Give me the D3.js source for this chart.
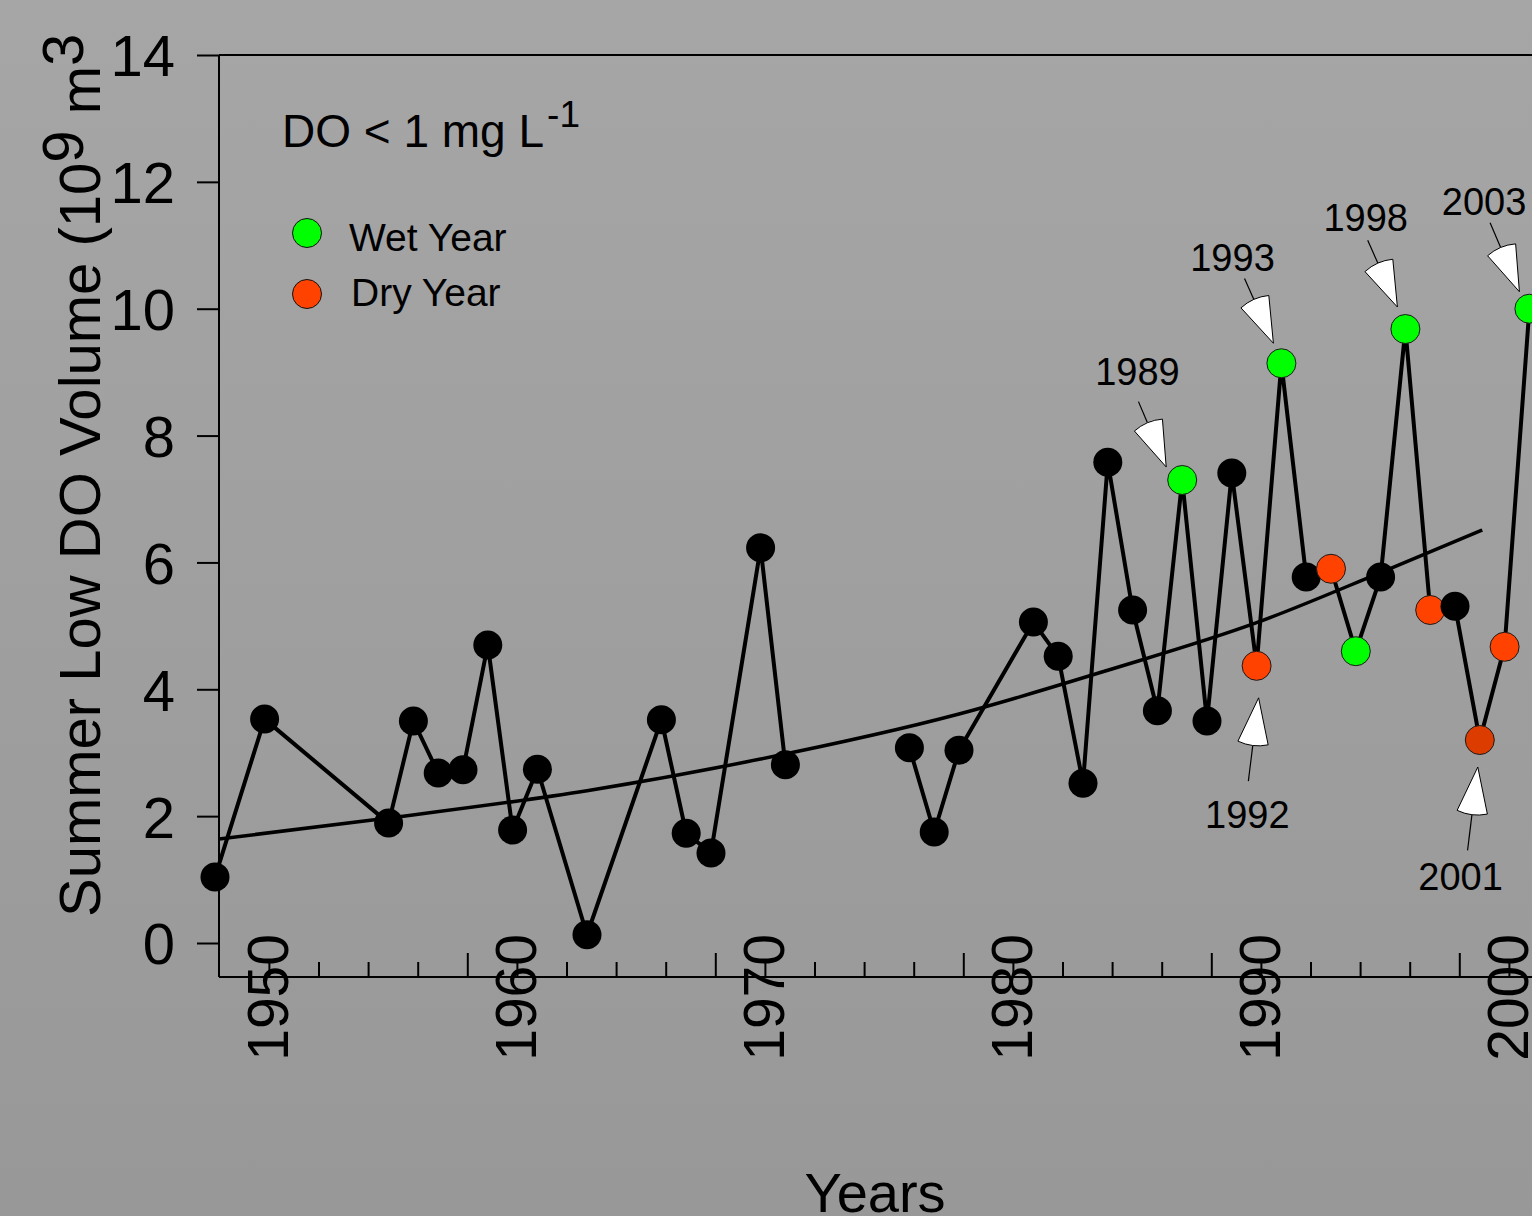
<!DOCTYPE html>
<html><head><meta charset="utf-8">
<script src="https://cdn.jsdelivr.net/npm/d3@7"></script>
<style>html,body{margin:0;padding:0;overflow:hidden;background:#a0a0a0}svg{display:block}</style>
</head><body><svg id="chart" width="1532" height="1216"></svg>
<script>
// ---- data ----
const years = [1950,1952,1957,1958,1959,1960,1961,1962,1963,1965,1968,1969,1970,1972,1973,
               1978,1979,1980,1983,1984,1985,1986,1987,1988,1989,1990,1991,1992,1993,1994,
               1995,1996,1997,1998,1999,2000,2001,2002,2003];
const values = [1.04,3.53,1.89,3.50,2.68,2.73,4.70,1.78,2.74,0.13,3.52,1.73,1.42,6.23,2.81,
                3.08,1.75,3.04,5.06,4.52,2.52,7.58,5.25,3.66,7.30,3.50,7.41,4.37,9.14,5.77,
                5.90,4.60,5.77,9.68,5.25,5.31,3.20,4.67,10.0];
const wetYears = [1989,1993,1996,1998,2003];
const dryYears = [1992,1995,1999,2002];
const dryDarkYears = [2001];
const lineBreakAfter = [1973];
const trendYears  = [1950.15,1957,1965,1972,1980,1986,1992,1997,2001.1];
const trendValues = [1.64,1.97,2.40,2.90,3.61,4.30,5.05,5.84,6.51];
const yTicks = [0,2,4,6,8,10,12,14];
const xMajorTicks = [1960,1970,1980,1990,2000];
const xMinorTicks = [1952,1954,1956,1958,1962,1964,1966,1968,1972,1974,1976,1978,1982,1984,1986,1988,1992,1994,1996,1998,2002];
const xLabelYears = [1950,1960,1970,1980,1990,2000];
const calloutYears = [1989,1993,1998,2003,1992,2001];
const calloutLabels = ["1989","1993","1998","2003","1992","2001"];
const legendLabels = ["Wet Year","Dry Year"];

// ---- styling ----
const FONT = "'Liberation Sans', Arial, Helvetica, sans-serif";
const colWet = "#00ff00", colDry = "#ff4200", colDryDark = "#dc3c00";
const calloutStyle = {
  1989:{dx:-16,dy:-13,ang:-113,lead:23,lx:-1,ly:-17},
  1993:{dx:-8,dy:-20,ang:-114,lead:23,lx:-12,ly:-7},
  1998:{dx:-8,dy:-22,ang:-114,lead:25,lx:-2,ly:-9},
  2003:{dx:-10,dy:-17,ang:-113,lead:27,lx:-6,ly:-8},
  1992:{dx:2,dy:32,ang:97,lead:36,lx:-1,ly:47},
  2001:{dx:-2,dy:27,ang:97,lead:36,lx:-7,ly:40}
};

const svg = d3.select("#chart");
const W = 1532, H = 1216;
const defs = svg.append("defs");
const grad = defs.append("linearGradient").attr("id","bg").attr("x1",0).attr("y1",0).attr("x2",0).attr("y2",1);
grad.append("stop").attr("offset","0%").attr("stop-color","#a6a6a6");
grad.append("stop").attr("offset","100%").attr("stop-color","#989898");
svg.append("rect").attr("width",W).attr("height",H).attr("fill","url(#bg)");

const x = d3.scaleLinear().domain([1950,2001]).range([215,215+51*24.8]);
const xAxisScale = x.copy().range(x.range().map(v => v + 4.3));
const y = d3.scaleLinear().domain([0,14]).range([943,55]);

const plotLeft = 219, plotTop = 55, plotBottom = 977;

// frame lines
svg.append("line").attr("x1",plotLeft).attr("x2",plotLeft).attr("y1",plotTop).attr("y2",plotBottom)
  .attr("stroke","#000").attr("stroke-width",2);
svg.append("line").attr("x1",plotLeft).attr("x2",W).attr("y1",plotTop).attr("y2",plotTop)
  .attr("stroke","#000").attr("stroke-width",2);
svg.append("line").attr("x1",plotLeft).attr("x2",W).attr("y1",plotBottom).attr("y2",plotBottom)
  .attr("stroke","#000").attr("stroke-width",2);

// y axis
const yAxis = svg.append("g").attr("transform",`translate(${plotLeft},0)`)
  .call(d3.axisLeft(y).tickValues(yTicks).tickSize(22).tickPadding(22).tickFormat(d3.format("d")));
yAxis.select(".domain").remove();
yAxis.selectAll(".tick line").attr("stroke","#000").attr("stroke-width",2);
yAxis.selectAll(".tick text").attr("font-family",FONT).attr("font-size",58).attr("fill","#000").attr("dy","0.36em");

// x axis ticks (inside, upward)
const xMin = svg.append("g").attr("transform",`translate(0,${plotBottom})`)
  .call(d3.axisTop(xAxisScale).tickValues(xMinorTicks).tickSize(15).tickFormat(""));
const xMaj = svg.append("g").attr("transform",`translate(0,${plotBottom})`)
  .call(d3.axisTop(xAxisScale).tickValues(xMajorTicks).tickSize(24).tickFormat(""));
[xMin,xMaj].forEach(g => { g.select(".domain").remove(); g.selectAll(".tick line").attr("stroke","#000").attr("stroke-width",2); });

// x labels (placed as in the reference, beside their decade mark)
svg.append("g").selectAll("text").data(xLabelYears).join("text")
  .attr("transform", d => `translate(${xAxisScale(d+2)+19},934) rotate(-90)`)
  .attr("text-anchor","end").attr("font-family",FONT).attr("font-size",57).attr("fill","#000")
  .text(d => d);

// axis titles
const yt = svg.append("text").attr("transform","translate(100,917) rotate(-90)")
  .attr("font-family",FONT).attr("font-size",58).attr("fill","#000");
yt.append("tspan").text("Summer Low DO Volume (10");
yt.append("tspan").attr("dy",-17).text("9");
yt.append("tspan").attr("dy",17).text(" m");
yt.append("tspan").attr("dy",-17).text("3");

svg.append("text").attr("x",875).attr("y",1212).attr("text-anchor","middle")
  .attr("font-family",FONT).attr("font-size",56).attr("fill","#000").text("Years");

// DO label
const dol = svg.append("text").attr("x",282).attr("y",147).attr("font-family",FONT).attr("font-size",46).attr("fill","#000");
dol.append("tspan").text("DO < 1 mg L");
dol.append("tspan").attr("dx",3).attr("dy",-20).attr("font-size",37).text("-1");

// legend
const legColors = [colWet, colDry];
const leg = svg.append("g");
leg.selectAll("circle").data(legendLabels).join("circle")
  .attr("cx",307).attr("cy",(d,i)=>233+i*61).attr("r",14.5)
  .attr("fill",(d,i)=>legColors[i]).attr("stroke","#111").attr("stroke-width",1);
leg.selectAll("text").data(legendLabels).join("text")
  .attr("x",(d,i)=>349+i*2).attr("y",(d,i)=>251+i*55)
  .attr("font-family",FONT).attr("font-size",39).attr("fill","#000").text(d=>d);

// trend line
svg.append("path").datum(trendYears.map((t,i)=>[t,trendValues[i]]))
  .attr("d", d3.line().x(d=>x(d[0])).y(d=>y(d[1])).curve(d3.curveMonotoneX))
  .attr("fill","none").attr("stroke","#000").attr("stroke-width",3.5);

// data line segments
const pts = years.map((yr,i)=>({year:yr, value:values[i]}));
const segments = [];
let cur = [];
pts.forEach(p => { cur.push(p); if (lineBreakAfter.includes(p.year)) { segments.push(cur); cur = []; } });
if (cur.length) segments.push(cur);
const line = d3.line().x(d=>x(d.year)).y(d=>y(d.value));
svg.append("g").selectAll("path").data(segments).join("path")
  .attr("d", line).attr("fill","none").attr("stroke","#000").attr("stroke-width",4).attr("stroke-linejoin","round");

// points
function colorOf(yr){
  if (wetYears.includes(yr)) return colWet;
  if (dryDarkYears.includes(yr)) return colDryDark;
  if (dryYears.includes(yr)) return colDry;
  return "#000";
}
svg.append("g").selectAll("circle").data(pts).join("circle")
  .attr("cx",d=>x(d.year)).attr("cy",d=>y(d.value)).attr("r",14.5)
  .attr("fill",d=>colorOf(d.year))
  .attr("stroke",d=>colorOf(d.year)==="#000"?"none":"#1a1a1a").attr("stroke-width",1);

// callouts
const R = 48, HALF = 18.5 * Math.PI/180;
const cg = svg.append("g");
calloutYears.forEach((yr,i) => {
  const p = pts.find(q=>q.year===yr);
  const s = calloutStyle[yr];
  const tx = x(p.year)+s.dx, ty = y(p.value)+s.dy;
  const a = s.ang*Math.PI/180;
  const e1 = [tx+R*Math.cos(a-HALF), ty+R*Math.sin(a-HALF)];
  const e2 = [tx+R*Math.cos(a+HALF), ty+R*Math.sin(a+HALF)];
  const mid = [tx+R*Math.cos(a), ty+R*Math.sin(a)];
  const end = [tx+(R+s.lead)*Math.cos(a), ty+(R+s.lead)*Math.sin(a)];
  cg.append("line").attr("x1",mid[0]).attr("y1",mid[1]).attr("x2",end[0]).attr("y2",end[1])
    .attr("stroke","#000").attr("stroke-width",1.2);
  cg.append("path").attr("d",`M${tx},${ty}L${e1[0]},${e1[1]}A${R},${R} 0 0 1 ${e2[0]},${e2[1]}Z`)
    .attr("fill","#fff").attr("stroke","#000").attr("stroke-width",1);
  cg.append("text").attr("x",end[0]+s.lx).attr("y",end[1]+s.ly).attr("text-anchor","middle")
    .attr("font-family",FONT).attr("font-size",38).attr("fill","#000").text(calloutLabels[i]);
});
</script></body></html>
